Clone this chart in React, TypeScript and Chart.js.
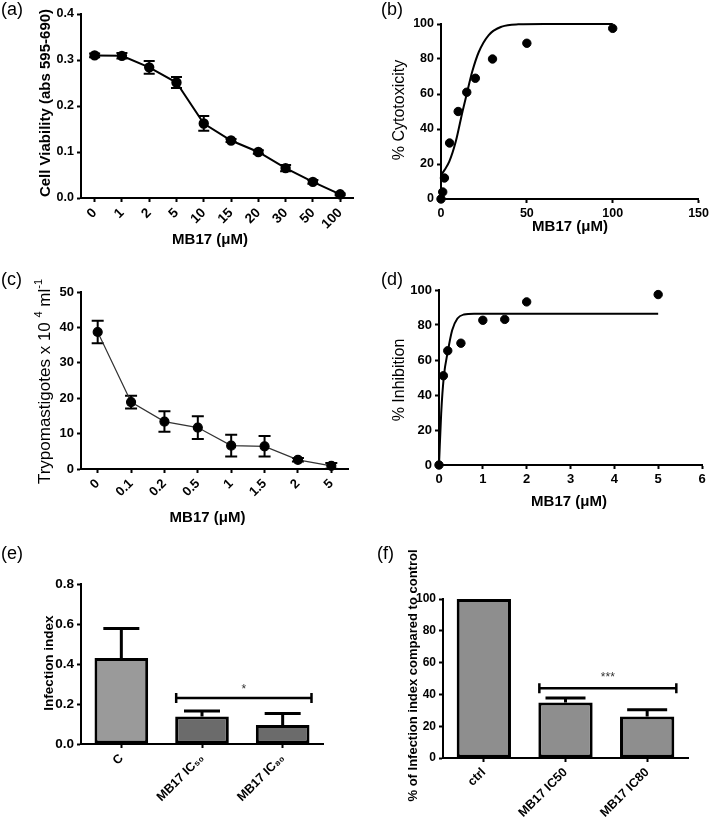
import React, { useEffect, useRef } from 'react';
import { Chart, registerables } from 'chart.js';
Chart.register(...registerables);

const FAMILY = '"Liberation Sans", Arial, Helvetica, sans-serif';

// ---------- (a) cell viability ----------
const aDoses = ['0', '1', '2', '5', '10', '15', '20', '30', '50', '100'];
const aViability = [0.31, 0.309, 0.284, 0.251, 0.162, 0.125, 0.1, 0.065, 0.035, 0.008];
const aViabilityErr = [0.004, 0.006, 0.014, 0.012, 0.016, 0.003, 0.004, 0.007, 0.004, 0.002];

// ---------- (b) % cytotoxicity ----------
const bDose = [0, 1, 2, 5, 10, 15, 20, 30, 50, 100];
const bCytotoxicity = [0, 4, 12, 32, 50, 61, 69, 80, 89, 97.5];
const bFitDose = [0, 2, 4.8, 8.6, 12.5, 15.3, 18.2, 22, 27.8, 35.4, 45, 60, 100];
const bFitCytotoxicity = [13.7, 16.5, 21.3, 32.8, 49.9, 61.3, 72.8, 84, 93.7, 98.5, 99.8, 100, 100];

// ---------- (c) trypomastigotes ----------
const cDoses = ['0', '0.1', '0.2', '0.5', '1', '1.5', '2', '5'];
const cTrypo = [38.7, 18.9, 13.4, 11.7, 6.6, 6.4, 2.6, 0.9];
const cTrypoErr = [3.2, 1.8, 2.9, 3.2, 3.1, 2.9, 0.5, 0.8];

// ---------- (d) % inhibition ----------
const dDose = [0, 0.1, 0.2, 0.5, 1, 1.5, 2, 5];
const dInhibition = [0, 51, 65.3, 69.6, 82.7, 83.2, 93.2, 97.4];
const dFitDose = [0, 0.05, 0.11, 0.2, 0.3, 0.42, 0.57, 0.8, 1.2, 5];
const dFitInhibition = [0, 29.6, 50.5, 64.7, 77, 83.7, 86, 86.5, 86.5, 86.5];

// ---------- (e) infection index ----------
const eGroups = ['C', 'MB17 IC\u2085\u2080', 'MB17 IC\u2088\u2080'];
const eInfection = [0.43, 0.138, 0.095];
const eInfectionErr = [0.148, 0.027, 0.058];
const eSigFrom = 1;
const eSigTo = 2;
const eSigLevel = 0.23;
const eSigMark = '*';

// ---------- (f) % infection index vs control ----------
const fGroups = ['ctrl', 'MB17 IC50', 'MB17 IC80'];
const fPercent = [100, 34.9, 26.1];
const fPercentErr = [0, 2.9, 4.2];
const fSigFrom = 1;
const fSigTo = 2;
const fSigLevel = 43.8;
const fSigMark = '***';

type Box = { L: number; T: number; W: number; H: number };
type Area = { x0: number; y0: number; x1: number; y1: number };
type Seg = { t: string; sup?: boolean };
type Txt = { segs: Seg[]; x: number; y: number; size: number; bold?: boolean; rot?: boolean; left?: boolean; color?: string };
type ErrOpt = { values: number[]; errors: number[]; up?: boolean; cap: number; lw: number };
type BrOpt = { from: number; to: number; level: number; mark: string; dy: number };

function drawText(ctx: CanvasRenderingContext2D, t: Txt, ox: number, oy: number) {
  ctx.save();
  ctx.translate(t.x - ox, t.y - oy);
  if (t.rot) ctx.rotate(-Math.PI / 2);
  ctx.fillStyle = t.color || '#000';
  ctx.textBaseline = 'middle';
  ctx.textAlign = 'left';
  const f = (sup?: boolean) => `${t.bold ? 'bold ' : ''}${sup ? Math.round(t.size * 0.62) : t.size}px ${FAMILY}`;
  let total = 0;
  for (const s of t.segs) {
    ctx.font = f(s.sup);
    total += ctx.measureText(s.t).width;
  }
  let x = t.left ? 0 : -total / 2;
  for (const s of t.segs) {
    ctx.font = f(s.sup);
    ctx.fillText(s.t, x, s.sup ? -t.size * 0.38 : 0);
    x += ctx.measureText(s.t).width;
  }
  ctx.restore();
}

function drawErrors(chart: any, e: ErrOpt) {
  const ctx = chart.ctx as CanvasRenderingContext2D;
  const ys = chart.scales.y;
  const meta = chart.getDatasetMeta(0);
  ctx.save();
  ctx.strokeStyle = '#000';
  ctx.lineWidth = e.lw;
  ctx.lineCap = 'butt';
  meta.data.forEach((el: any, i: number) => {
    const err = e.errors[i];
    if (!err) return;
    const v = e.values[i];
    const x = el.x;
    const yt = ys.getPixelForValue(v + err);
    const yb = e.up ? ys.getPixelForValue(v) : ys.getPixelForValue(v - err);
    ctx.beginPath();
    ctx.moveTo(x, yb);
    ctx.lineTo(x, yt);
    ctx.moveTo(x - e.cap, yt);
    ctx.lineTo(x + e.cap, yt);
    if (!e.up) {
      ctx.moveTo(x - e.cap, yb);
      ctx.lineTo(x + e.cap, yb);
    }
    ctx.stroke();
  });
  ctx.restore();
}

function drawBracket(chart: any, b: BrOpt) {
  const ctx = chart.ctx as CanvasRenderingContext2D;
  const ys = chart.scales.y;
  const bars = chart.getDatasetMeta(0).data;
  const a = bars[b.from];
  const c = bars[b.to];
  const x0 = a.x - a.width / 2 + 1;
  const x1 = c.x + c.width / 2 + 2;
  const y = ys.getPixelForValue(b.level);
  ctx.save();
  ctx.strokeStyle = '#000';
  ctx.lineWidth = 2.5;
  ctx.beginPath();
  ctx.moveTo(x0, y);
  ctx.lineTo(x1, y);
  ctx.moveTo(x0, y - 5);
  ctx.lineTo(x0, y + 5);
  ctx.moveTo(x1, y - 5);
  ctx.lineTo(x1, y + 5);
  ctx.stroke();
  ctx.fillStyle = '#333';
  ctx.font = `12px ${FAMILY}`;
  ctx.textAlign = 'center';
  ctx.textBaseline = 'middle';
  ctx.fillText(b.mark, (x0 + x1) / 2, y + b.dy);
  ctx.restore();
}

function decor(box: Box, texts: Txt[], err?: ErrOpt, br?: BrOpt) {
  return {
    id: 'decor',
    beforeDatasetsDraw(chart: any) {
      if (err && !err.up) drawErrors(chart, err);
    },
    afterDatasetsDraw(chart: any) {
      if (err && err.up) drawErrors(chart, err);
      if (br) drawBracket(chart, br);
    },
    afterDraw(chart: any) {
      for (const t of texts) drawText(chart.ctx, t, box.L, box.T);
    },
  };
}

const tickGrid = {
  display: true,
  drawOnChartArea: false,
  drawTicks: true,
  tickLength: 4,
  tickWidth: 2,
  tickColor: '#000',
  offset: false,
};
const axisBorder = { display: true, color: '#000', width: 2 };

function yAxis(min: number, max: number, step: number, size: number, width: number, dec: number) {
  return {
    type: 'linear',
    min,
    max,
    grid: tickGrid,
    border: axisBorder,
    ticks: {
      stepSize: step,
      color: '#000',
      padding: 3,
      font: { family: FAMILY, size, weight: 'bold' },
      callback: (v: any) => Number(v).toFixed(dec),
    },
    afterFit: (s: any) => {
      s.width = width;
    },
  };
}

function xCategory(size: number, height: number) {
  return {
    type: 'category',
    offset: true,
    grid: tickGrid,
    border: axisBorder,
    ticks: {
      color: '#000',
      padding: 3,
      autoSkip: false,
      minRotation: 45,
      maxRotation: 45,
      font: { family: FAMILY, size, weight: 'bold' },
    },
    afterFit: (s: any) => {
      s.height = height;
    },
  };
}

function xLinear(min: number, max: number, step: number, size: number, height: number) {
  return {
    type: 'linear',
    min,
    max,
    grid: tickGrid,
    border: axisBorder,
    ticks: {
      stepSize: step,
      color: '#000',
      padding: 3,
      maxRotation: 0,
      font: { family: FAMILY, size, weight: 'bold' },
    },
    afterFit: (s: any) => {
      s.height = height;
    },
  };
}

function frame(box: Box, area: Area) {
  return {
    padding: { top: area.y0 - box.T, right: box.L + box.W - area.x1, left: 0, bottom: 0 },
    yWidth: area.x0 - box.L,
    xHeight: box.T + box.H - area.y1,
  };
}

const baseOptions = (padding: any) => ({
  responsive: false,
  animation: false,
  events: [],
  layout: { padding },
  plugins: { legend: { display: false }, tooltip: { enabled: false } },
});

const pts = (xs: number[], ys: number[]) => xs.map((x, i) => ({ x, y: ys[i] }));

const label = (t: string, x: number, y: number): Txt => ({ segs: [{ t }], x, y, size: 18, left: true });

// ---------- panel builders ----------
const boxA: Box = { L: 0, T: 0, W: 360, H: 265 };
const areaA: Area = { x0: 81, y0: 14, x1: 358, y1: 198 };
function configA() {
  const f = frame(boxA, areaA);
  return {
    type: 'line',
    data: {
      labels: aDoses,
      datasets: [
        {
          data: aViability,
          borderColor: '#000',
          borderWidth: 2,
          pointRadius: 4.2,
          pointBackgroundColor: '#000',
          pointBorderColor: '#000',
          tension: 0,
          clip: false,
        },
      ],
    },
    options: {
      ...baseOptions(f.padding),
      scales: { x: xCategory(13.5, f.xHeight), y: yAxis(0, 0.4, 0.1, 12.5, f.yWidth, 1) },
    },
    plugins: [
      decor(
        boxA,
        [
          label('(a)', 1, 10),
          { segs: [{ t: 'Cell Viability (abs 595-690)' }], x: 46, y: 103, size: 15, bold: true, rot: true },
          { segs: [{ t: 'MB17 (\u03bcM)' }], x: 210, y: 240, size: 15, bold: true },
        ],
        { values: aViability, errors: aViabilityErr, cap: 5.5, lw: 2 }
      ),
    ],
  };
}

const boxB: Box = { L: 360, T: 0, W: 352, H: 265 };
const areaB: Area = { x0: 441, y0: 24, x1: 702, y1: 199 };
function configB() {
  const f = frame(boxB, areaB);
  return {
    type: 'scatter',
    data: {
      datasets: [
        {
          data: pts(bDose, bCytotoxicity),
          pointRadius: 4.2,
          pointBackgroundColor: '#000',
          pointBorderColor: '#000',
          showLine: false,
          clip: false,
        },
        {
          data: pts(bFitDose, bFitCytotoxicity),
          pointRadius: 0,
          borderColor: '#000',
          borderWidth: 2,
          showLine: true,
          cubicInterpolationMode: 'monotone',
          clip: false,
        },
      ],
    },
    options: {
      ...baseOptions(f.padding),
      scales: { x: xLinear(0, 150, 50, 12.5, f.xHeight), y: yAxis(0, 100, 20, 12.5, f.yWidth, 0) },
    },
    plugins: [
      decor(boxB, [
        label('(b)', 381, 10.5),
        { segs: [{ t: '% Cytotoxicity' }], x: 400, y: 110, size: 16, rot: true },
        { segs: [{ t: 'MB17 (\u03bcM)' }], x: 570, y: 227, size: 15, bold: true },
      ]),
    ],
  };
}

const boxC: Box = { L: 0, T: 265, W: 360, H: 275 };
const areaC: Area = { x0: 81, y0: 292, x1: 348, y1: 469 };
function configC() {
  const f = frame(boxC, areaC);
  return {
    type: 'line',
    data: {
      labels: cDoses,
      datasets: [
        {
          data: cTrypo,
          borderColor: '#333',
          borderWidth: 1.2,
          pointRadius: 4.5,
          pointBackgroundColor: '#000',
          pointBorderColor: '#000',
          tension: 0,
          clip: false,
        },
      ],
    },
    options: {
      ...baseOptions(f.padding),
      scales: { x: xCategory(13, f.xHeight), y: yAxis(0, 50, 10, 13, f.yWidth, 0) },
    },
    plugins: [
      decor(
        boxC,
        [
          label('(c)', 1, 280.5),
          {
            segs: [{ t: 'Trypomastigotes x 10 ' }, { t: '4', sup: true }, { t: ' ml' }, { t: '-1', sup: true }],
            x: 45,
            y: 381.5,
            size: 17,
            rot: true,
          },
          { segs: [{ t: 'MB17 (\u03bcM)' }], x: 207.5, y: 518, size: 15, bold: true },
        ],
        { values: cTrypo, errors: cTrypoErr, cap: 6, lw: 2 }
      ),
    ],
  };
}

const boxD: Box = { L: 360, T: 265, W: 352, H: 275 };
const areaD: Area = { x0: 439, y0: 290, x1: 702, y1: 465 };
function configD() {
  const f = frame(boxD, areaD);
  return {
    type: 'scatter',
    data: {
      datasets: [
        {
          data: pts(dDose, dInhibition),
          pointRadius: 4.2,
          pointBackgroundColor: '#000',
          pointBorderColor: '#000',
          showLine: false,
          clip: false,
        },
        {
          data: pts(dFitDose, dFitInhibition),
          pointRadius: 0,
          borderColor: '#000',
          borderWidth: 2,
          showLine: true,
          cubicInterpolationMode: 'monotone',
          clip: false,
        },
      ],
    },
    options: {
      ...baseOptions(f.padding),
      scales: { x: xLinear(0, 6, 1, 13, f.xHeight), y: yAxis(0, 100, 20, 13, f.yWidth, 0) },
    },
    plugins: [
      decor(boxD, [
        label('(d)', 381, 280.5),
        { segs: [{ t: '% Inhibition' }], x: 400, y: 380, size: 16, rot: true },
        { segs: [{ t: 'MB17 (\u03bcM)' }], x: 569, y: 502, size: 15, bold: true },
      ]),
    ],
  };
}

const boxE: Box = { L: 0, T: 540, W: 360, H: 277 };
const areaE: Area = { x0: 81, y0: 584, x1: 323, y1: 744 };
function configE() {
  const f = frame(boxE, areaE);
  return {
    type: 'bar',
    data: {
      labels: eGroups,
      datasets: [
        {
          data: eInfection,
          backgroundColor: ['#9a9a9a', '#6b6b6b', '#6b6b6b'],
          borderColor: '#000',
          borderWidth: 3,
          borderSkipped: false,
          categoryPercentage: 1,
          barPercentage: 0.665,
        },
      ],
    },
    options: {
      ...baseOptions(f.padding),
      scales: { x: xCategory(12.5, f.xHeight), y: yAxis(0, 0.8, 0.2, 13.5, f.yWidth, 1) },
    },
    plugins: [
      decor(
        boxE,
        [label('(e)', 1, 554.5), { segs: [{ t: 'Infection index' }], x: 49, y: 663, size: 13.5, bold: true, rot: true }],
        { values: eInfection, errors: eInfectionErr, up: true, cap: 18, lw: 3 },
        { from: eSigFrom, to: eSigTo, level: eSigLevel, mark: eSigMark, dy: -8 }
      ),
    ],
  };
}

const boxF: Box = { L: 360, T: 540, W: 352, H: 277 };
const areaF: Area = { x0: 443, y0: 599, x1: 688, y1: 758 };
function configF() {
  const f = frame(boxF, areaF);
  return {
    type: 'bar',
    data: {
      labels: fGroups,
      datasets: [
        {
          data: fPercent,
          backgroundColor: '#8e8e8e',
          borderColor: '#000',
          borderWidth: 3,
          borderSkipped: false,
          categoryPercentage: 1,
          barPercentage: 0.665,
        },
      ],
    },
    options: {
      ...baseOptions(f.padding),
      scales: { x: xCategory(12.5, f.xHeight), y: yAxis(0, 100, 20, 12, f.yWidth, 0) },
    },
    plugins: [
      decor(
        boxF,
        [
          label('(f)', 377, 554.5),
          { segs: [{ t: '% of Infection index compared to control' }], x: 413, y: 675.5, size: 13, bold: true, rot: true },
        ],
        { values: fPercent, errors: fPercentErr, up: true, cap: 20, lw: 3 },
        { from: fSigFrom, to: fSigTo, level: fSigLevel, mark: fSigMark, dy: -11 }
      ),
    ],
  };
}

function Panel({ box, make }: { box: Box; make: () => any }) {
  const ref = useRef<HTMLCanvasElement>(null);
  useEffect(() => {
    const chart = new Chart(ref.current as HTMLCanvasElement, make());
    return () => chart.destroy();
  }, []);
  return (
    <div style={{ position: 'absolute', left: box.L, top: box.T, width: box.W, height: box.H }}>
      <canvas ref={ref} width={box.W} height={box.H} style={{ width: box.W, height: box.H, display: 'block' }} />
    </div>
  );
}

export default function App() {
  return (
    <div style={{ position: 'absolute', left: 0, top: 0, width: 712, height: 817, background: '#fff', overflow: 'hidden' }}>
      <Panel box={boxA} make={configA} />
      <Panel box={boxB} make={configB} />
      <Panel box={boxC} make={configC} />
      <Panel box={boxD} make={configD} />
      <Panel box={boxE} make={configE} />
      <Panel box={boxF} make={configF} />
    </div>
  );
}
